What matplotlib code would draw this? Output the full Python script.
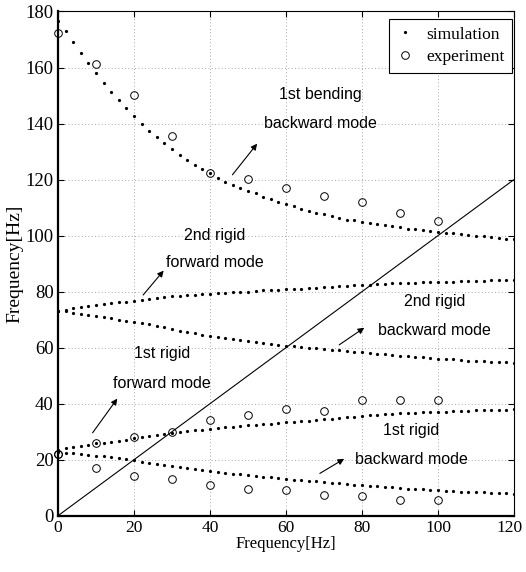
import matplotlib
matplotlib.use("Agg")
import matplotlib.pyplot as plt
import matplotlib.transforms as mtransforms

# ---------------- data ----------------
sim_x = list(range(0, 122, 2))

bending_backward = [176.5, 173.1, 169.1, 165.3, 161.6, 158.0, 154.6, 151.4, 148.4, 145.4,
                    142.6, 140.0, 137.5, 135.1, 133.0, 130.9, 128.8, 126.9, 125.3, 123.7,
                    122.2, 120.5, 119.2, 118.1, 117.0, 116.0, 115.1, 113.9, 113.0, 112.0,
                    111.2, 110.4, 109.6, 108.8, 108.1, 107.6, 107.0, 106.3, 105.7, 105.4,
                    104.9, 104.5, 104.1, 103.7, 103.4, 102.9, 102.5, 102.3, 101.9, 101.6,
                    101.3, 101.1, 100.9, 100.6, 100.3, 99.9, 99.8, 99.5, 99.3, 98.9, 98.8]

rigid2_forward = [73.0, 73.4, 74.1, 74.4, 74.9, 75.2, 75.6, 75.9, 76.2, 76.4,
                  76.8, 77.0, 77.5, 77.9, 78.1, 78.3, 78.6, 78.7, 78.9, 79.0,
                  79.2, 79.4, 79.6, 79.8, 79.9, 80.0, 80.2, 80.4, 80.5, 80.7,
                  80.8, 80.95, 81.1, 81.3, 81.4, 81.6, 81.7, 81.9, 82.0, 82.2,
                  82.4, 82.5, 82.6, 82.8, 82.9, 83.0, 83.1, 83.2, 83.3, 83.4,
                  83.5, 83.55, 83.6, 83.7, 83.8, 83.85, 83.9, 84.0, 84.05, 84.1, 84.2]

rigid2_backward = [73.0, 73.0, 72.5, 72.0, 71.7, 71.3, 70.9, 70.5, 69.9, 69.5,
                   69.2, 68.9, 68.3, 67.7, 67.3, 66.7, 66.1, 65.6, 65.1, 64.6,
                   64.3, 63.7, 63.3, 63.0, 62.6, 62.3, 61.9, 61.5, 61.3, 61.0,
                   60.7, 60.5, 60.2, 60.0, 59.8, 59.6, 59.3, 59.1, 58.8, 58.5,
                   58.3, 58.1, 57.8, 57.6, 57.3, 57.1, 56.9, 56.7, 56.5, 56.3,
                   56.1, 55.9, 55.8, 55.6, 55.4, 55.3, 55.1, 55.0, 54.8, 54.7, 54.5]

rigid1_forward = [23.5, 24.1, 24.4, 24.9, 25.4, 25.9, 26.1, 26.4, 26.8, 27.0,
                  27.6, 28.2, 28.6, 28.9, 29.3, 29.6, 29.9, 30.1, 30.5, 30.7,
                  31.0, 31.2, 31.5, 31.8, 32.0, 32.3, 32.5, 32.7, 32.9, 33.1,
                  33.3, 33.6, 33.8, 33.9, 34.2, 34.5, 34.7, 34.9, 35.2, 35.4,
                  35.6, 35.8, 36.0, 36.2, 36.4, 36.5, 36.6, 36.8, 36.9, 37.0,
                  37.1, 37.2, 37.3, 37.4, 37.5, 37.6, 37.7, 37.8, 37.85, 37.9, 38.0]

rigid1_backward = [22.7, 22.5, 22.3, 22.0, 21.8, 21.4, 21.2, 20.9, 20.5, 20.1,
                   19.8, 19.1, 18.7, 18.3, 18.0, 17.6, 17.3, 16.9, 16.5, 16.2,
                   15.8, 15.6, 15.2, 15.0, 14.8, 14.4, 14.2, 13.9, 13.7, 13.5,
                   13.2, 12.9, 12.7, 12.5, 12.3, 12.0, 11.8, 11.6, 11.3, 11.1,
                   10.9, 10.7, 10.5, 10.3, 10.1, 9.9, 9.7, 9.5, 9.4, 9.2,
                   9.1, 8.9, 8.8, 8.6, 8.5, 8.4, 8.3, 8.2, 8.1, 8.0, 7.9]

exp_x = [0, 10, 20, 30, 40, 50, 60, 70, 80, 90, 100]
exp_bending = [172.3, 161.3, 150.2, 135.4, 122.3, 120.3, 116.9, 114.3, 112.0, 108.2, 105.1]
exp_rigid1_forward = [22.0, 26.1, 28.1, 30.0, 34.2, 36.1, 38.2, 37.3, 41.2, 41.2, 41.4]
exp_rigid1_backward = [22.0, 17.1, 14.0, 13.1, 11.1, 9.4, 9.2, 7.3, 7.0, 5.7, 5.7]

line_x = [0, 120]
line_y = [0, 120]

x_ticks = [0, 20, 40, 60, 80, 100, 120]
y_ticks = [0, 20, 40, 60, 80, 100, 120, 140, 160, 180]

legend_labels = ["simulation", "experiment"]
axis_label = "Frequency[Hz]"

mode_labels = [
    ("1st bending", "backward mode"),
    ("2nd rigid", "forward mode"),
    ("2nd rigid", "backward mode"),
    ("1st rigid", "forward mode"),
    ("1st rigid", "backward mode"),
]

# ---------------- figure ----------------
serif = ["Liberation Serif", "DejaVu Serif"]
sans = ["Liberation Sans", "DejaVu Sans"]

fig = plt.figure(figsize=(5.26, 5.72), dpi=100)
ax = fig.add_axes([0.1103, 0.0984, 0.8669, 0.8815])

sim_kw = dict(linestyle="none", marker="o", markersize=2.3, color="black",
              markeredgewidth=0, zorder=2.2)
for series in (bending_backward, rigid2_forward, rigid2_backward,
               rigid1_forward, rigid1_backward):
    ax.plot(sim_x, series, **sim_kw)

exp_kw = dict(linestyle="none", marker="o", markersize=5.5, markerfacecolor="none",
              markeredgecolor="black", markeredgewidth=0.7, clip_on=False, zorder=4)
for series in (exp_bending, exp_rigid1_forward, exp_rigid1_backward):
    ax.plot(exp_x, series, **exp_kw)

ax.plot(line_x, line_y, color="black", linewidth=0.8, zorder=2)

ax.set_xlim(0, 120)
ax.set_ylim(0, 180)
ax.set_xticks(x_ticks)
ax.set_yticks(y_ticks)
ax.grid(True, linestyle=(0, (1, 3)), color="0.55", linewidth=0.6)
ax.set_axisbelow(True)

ax.tick_params(direction="in", length=4, width=0.8, top=True, right=True, pad=3)
ax.tick_params(axis="y", labelsize=13.5)
ax.tick_params(axis="x", labelsize=12.5)
for lab in ax.get_xticklabels() + ax.get_yticklabels():
    lab.set_family(serif)
# keep the last x tick label inside the canvas
last = ax.get_xticklabels()[-1]
last.set_transform(last.get_transform() +
                   mtransforms.ScaledTranslation(-4 / 100, 0, fig.dpi_scale_trans))

for side in ("left", "bottom"):
    ax.spines[side].set_linewidth(1.6)
for side in ("top", "right"):
    ax.spines[side].set_linewidth(0.8)

ax.set_xlabel(axis_label, family=serif, fontsize=12, labelpad=0)
ax.set_ylabel(axis_label, family=serif, fontsize=14, labelpad=2)

# legend
h_sim, = ax.plot([], [], linestyle="none", marker="o", markersize=2.3,
                 color="black", markeredgewidth=0)
h_exp, = ax.plot([], [], linestyle="none", marker="o", markersize=5.5,
                 markerfacecolor="none", markeredgecolor="black", markeredgewidth=0.7)
leg = ax.legend([h_sim, h_exp], legend_labels, loc="upper right",
                bbox_to_anchor=(0.996, 0.986), prop={"family": serif, "size": 12.5},
                frameon=True, fancybox=False, framealpha=1, edgecolor="black",
                handlelength=1.0, handletextpad=0.7, borderpad=0.45,
                labelspacing=0.35, borderaxespad=0)
leg.get_frame().set_linewidth(0.8)

# mode annotations (text line 1, text line 2)
text_pos = [
    (69.0, 150.3, 139.9),
    (41.3, 100.2, 90.5),
    (99.0, 76.5, 66.0),
    (27.4, 58.0, 47.3),
    (93.0, 30.3, 19.9),
]
arrows = [
    ((45.9, 121.7), (52.4, 132.8)),
    ((22.4, 78.8), (27.8, 87.5)),
    ((74.0, 61.0), (80.6, 67.1)),
    ((9.1, 29.6), (15.6, 41.8)),
    ((68.9, 15.1), (75.3, 20.3)),
]
for (l1, l2), (tx, ty1, ty2), (start, end) in zip(mode_labels, text_pos, arrows):
    ax.text(tx, ty1, l1, ha="center", va="center", family=sans, fontsize=11.5, zorder=5)
    ax.text(tx, ty2, l2, ha="center", va="center", family=sans, fontsize=11.5, zorder=5)
    ax.annotate("", xy=end, xytext=start,
                arrowprops=dict(arrowstyle="-|>", color="black", lw=0.8,
                                mutation_scale=9, shrinkA=0, shrinkB=0))

fig.savefig("out.png", dpi=100)
